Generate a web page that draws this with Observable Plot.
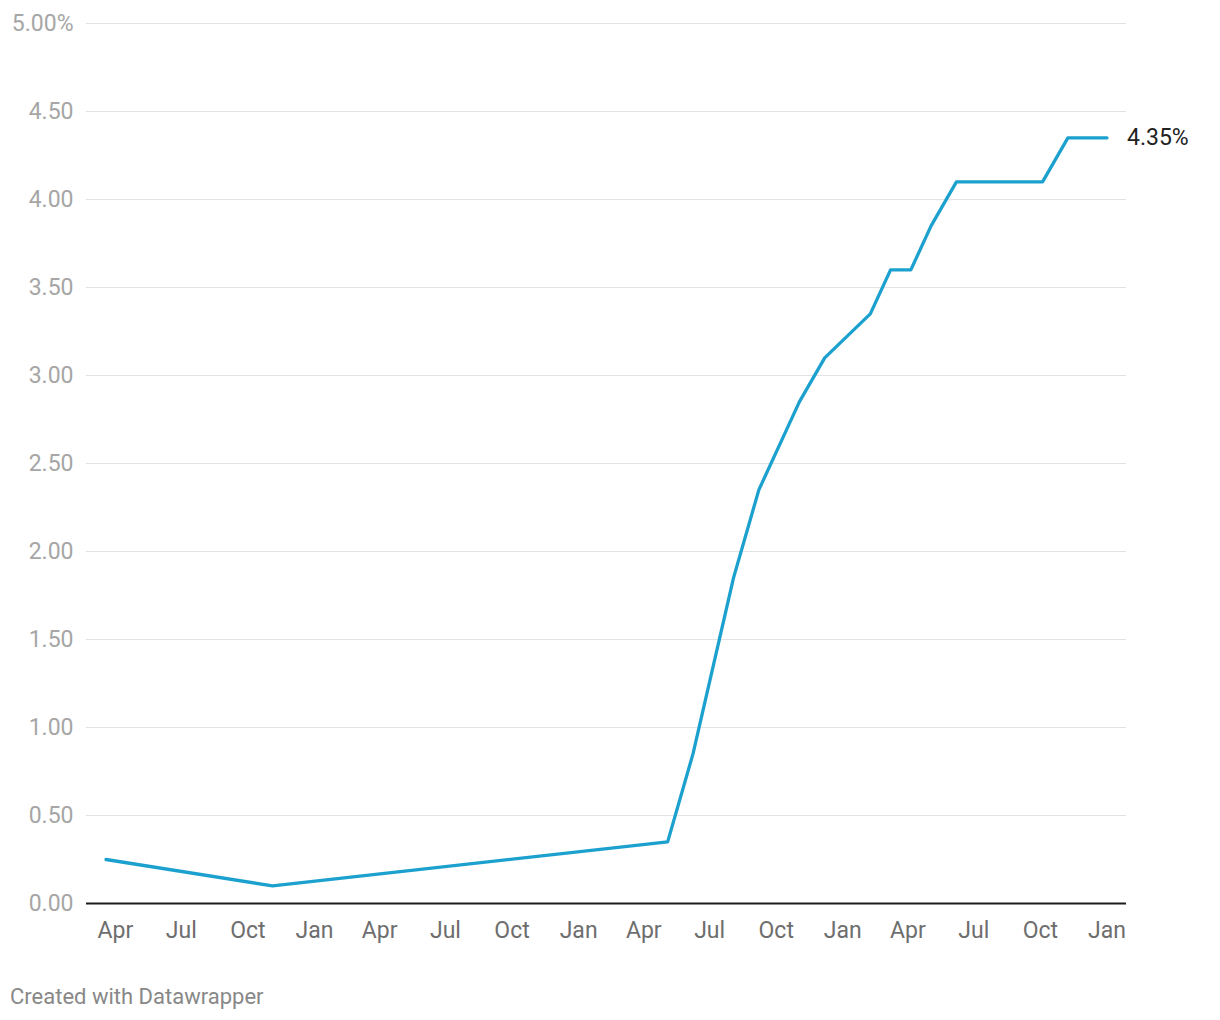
<!DOCTYPE html>
<html>
<head>
<meta charset="utf-8">
<script src="https://cdn.jsdelivr.net/npm/d3@7"></script>
<script src="https://cdn.jsdelivr.net/npm/@observablehq/plot@0.6"></script>
<style>
  html, body { margin: 0; padding: 0; background: #fff; }
  body { width: 1220px; height: 1020px; position: relative; font-family: Roboto, sans-serif; }
  #chart { position: absolute; left: 0; top: 0; }
  #footer { position: absolute; left: 10px; top: 985px; font-size: 22px; line-height: 24px; color: #888; }
</style>
</head>
<body>
<div id="chart"></div>
<div id="footer">Created with Datawrapper</div>
<script>
// Reserve Bank cash rate target (%)
const dates = ["2020-03-19","2020-11-04","2022-05-04","2022-06-08","2022-07-06","2022-08-03","2022-09-07","2022-10-05","2022-11-02","2022-12-07","2023-02-08","2023-03-08","2023-04-05","2023-05-03","2023-06-07","2023-07-05","2023-08-02","2023-09-06","2023-10-04","2023-11-08","2023-12-06","2024-01-01"];
const rates = [0.25,0.10,0.35,0.85,1.35,1.85,2.35,2.60,2.85,3.10,3.35,3.60,3.60,3.85,4.10,4.10,4.10,4.10,4.10,4.35,4.35,4.35];
const yTicks = [0,0.5,1,1.5,2,2.5,3,3.5,4,4.5,5];
const xTicks = ["2020-04-01","2020-07-01","2020-10-01","2021-01-01","2021-04-01","2021-07-01","2021-10-01","2022-01-01","2022-04-01","2022-07-01","2022-10-01","2023-01-01","2023-04-01","2023-07-01","2023-10-01","2024-01-01"];
const xDomain = ["2020-02-21","2024-01-28"];
const endLabel = "4.35%";

const data = dates.map((d, i) => ({date: new Date(d), rate: rates[i]}));
const last = data[data.length - 1];

const chart = Plot.plot({
  width: 1220,
  height: 950,
  marginTop: 23,
  marginBottom: 47,
  marginLeft: 86,
  marginRight: 94,
  style: {fontFamily: "Roboto, sans-serif", fontSize: "23px", background: "#fff", overflow: "visible"},
  x: {type: "utc", domain: xDomain.map(d => new Date(d))},
  y: {domain: [0, 5]},
  marks: [
    Plot.ruleY(yTicks.filter(d => d !== 0), {stroke: "#e3e3e3", strokeWidth: 1}),
    Plot.axisY(yTicks, {
      tickSize: 0, tickPadding: 13, label: null, fill: "#a6a6a6", fontSize: 23,
      tickFormat: d => d === 5 ? d.toFixed(2) + "%" : d.toFixed(2)
    }),
    Plot.axisX(xTicks.map(d => new Date(d)), {
      tickSize: 0, tickPadding: 18, label: null, fill: "#6e6e6e", fontSize: 23,
      tickFormat: d3.utcFormat("%b")
    }),
    Plot.ruleY([0], {stroke: "#1d1d1d", strokeWidth: 2}),
    Plot.lineY(data, {x: "date", y: "rate", stroke: "#1ca1cf", strokeWidth: 3.3, strokeLinejoin: "round", strokeLinecap: "round"}),
    Plot.text([last], {x: "date", y: "rate", text: () => endLabel, dx: 20, textAnchor: "start", fill: "#222", fontSize: 23})
  ]
});
document.getElementById("chart").appendChild(chart);
</script>
</body>
</html>
